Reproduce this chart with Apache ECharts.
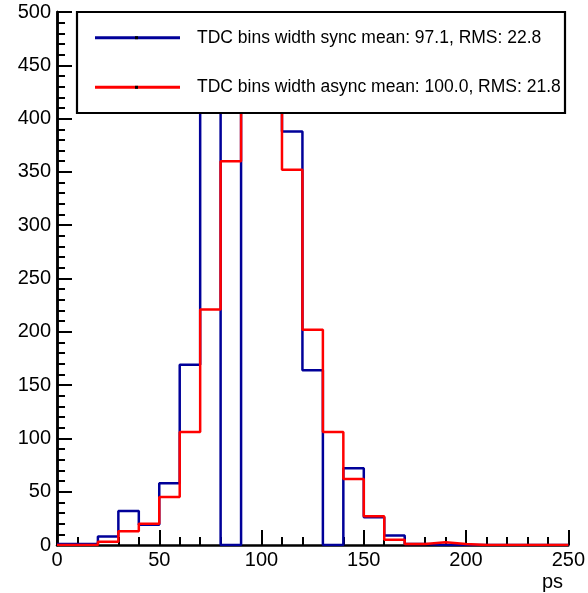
<!DOCTYPE html>
<html>
<head>
<meta charset="utf-8">
<script src="https://cdn.jsdelivr.net/npm/echarts@6/dist/echarts.min.js"></script>
<style>
  html, body { margin: 0; padding: 0; background: #fff; }
  #main { width: 588px; height: 593px; }
</style>
</head>
<body>
<div id="main"></div>
<script>
// bin lower edges (ps), 10 ps wide
var binStart = [0, 10, 20, 30, 40, 50, 60, 70, 80, 90, 100, 110, 120, 130, 140, 150, 160, 170, 180, 190, 200, 210, 220, 230, 240];
var binEnd = 250;
// counts per bin (peak bins hidden behind the legend, rough guesses)
var syncCounts = [1, 1, 8, 32, 19, 58, 169, 450, 0, 560, 540, 388, 164, 0, 72, 26, 9, 1, 0, 0, 0, 0, 0, 0, 0];
var asyncCounts = [0, 0, 3, 13, 20, 45, 106, 221, 360, 465, 470, 352, 202, 106, 62, 27, 5, 1, 2.5, 1, 0, 0, 0, 0, 0];
var seriesNames = [
  "TDC bins width sync mean: 97.1, RMS: 22.8",
  "TDC bins width async mean: 100.0, RMS: 21.8"
];
var seriesColors = ["#000099", "#ff0000"];

var font = "'Liberation Sans', Arial, Helvetica, sans-serif";

// histogram -> step line points
function histPoints (counts) {
  var pts = [];
  for (var i = 0; i < binStart.length; i++) {
    pts.push([binStart[i], counts[i]]);
  }
  pts.push([binEnd, counts[counts.length - 1]]);
  return pts;
}

var myChart = echarts.init(document.getElementById("main"));

var axisBlack = { color: "#000", width: 2.5 };

var option = {
  animation: false,
  grid: {
    left: 57,
    right: 18,
    top: 12,
    bottom: 48,
  },
  xAxis: {
    type: "value",
    min: 0,
    max: 250,
    interval: 50,
    axisLine: { show: true, onZero: false, lineStyle: axisBlack },
    axisTick: { show: true, inside: true, length: 15, lineStyle: { color: "#000", width: 2 } },
    minorTick: { show: true, splitNumber: 5, length: 8, lineStyle: { color: "#000", width: 2 } },
    splitLine: { show: false },
    axisLabel: { color: "#000", fontSize: 20, fontFamily: font, margin: 5 },
  },
  yAxis: [
    {
      type: "value",
      min: 0,
      max: 500,
      interval: 50,
      axisLine: { show: true, onZero: false, lineStyle: axisBlack },
      axisTick: { show: true, inside: true, length: 15, lineStyle: { color: "#000", width: 2 } },
      minorTick: { show: true, splitNumber: 5, length: 8, lineStyle: { color: "#000", width: 2 } },
      splitLine: { show: false },
      axisLabel: { color: "#000", fontSize: 20, fontFamily: font, margin: 6 },
    },
    {
      // right frame edge
      type: "value",
      position: "right",
      min: 0,
      max: 500,
      interval: 50,
      axisLine: { show: true, lineStyle: axisBlack },
      axisTick: { show: false },
      axisLabel: { show: false },
      splitLine: { show: false },
    },
  ],
  series: [
    {
      name: seriesNames[0],
      type: "line",
      step: "end",
      showSymbol: false,
      clip: true,
      lineStyle: { color: seriesColors[0], width: 2.5 },
      data: histPoints(syncCounts),
      z: 2,
    },
    {
      name: seriesNames[1],
      type: "line",
      step: "end",
      showSymbol: false,
      clip: true,
      lineStyle: { color: seriesColors[1], width: 2.5 },
      data: histPoints(asyncCounts),
      z: 3,
    },
  ],
  graphic: [
    {
      // white box that hides the top of the peak, as in the original
      type: "rect",
      z: 99,
      shape: { x: 76, y: 8, width: 496, height: 5 },
      style: { fill: "#fff" },
    },
    {
      type: "rect",
      z: 100,
      shape: { x: 77, y: 12, width: 488, height: 101 },
      style: { fill: "#fff", stroke: "#000", lineWidth: 2.2 },
    },
    {
      type: "text",
      z: 101,
      right: 25,
      top: 572,
      style: { text: "ps", fill: "#000", font: "20px " + font },
    },
  ],
};

// legend entries
var rowY = [37.7, 87.3];
for (var k = 0; k < 2; k++) {
  option.graphic.push(
    {
      type: "line",
      z: 101,
      shape: { x1: 95, y1: rowY[k], x2: 180, y2: rowY[k] },
      style: { stroke: seriesColors[k], lineWidth: 3 },
    },
    {
      type: "rect",
      z: 102,
      shape: { x: 135, y: rowY[k] - 1.5, width: 3, height: 3 },
      style: { fill: "#000" },
    },
    {
      type: "text",
      z: 101,
      x: 197,
      y: rowY[k],
      style: {
        text: seriesNames[k],
        fill: "#000",
        font: "17.5px " + font,
        verticalAlign: "middle",
      },
    }
  );
}

myChart.setOption(option);
</script>
</body>
</html>
